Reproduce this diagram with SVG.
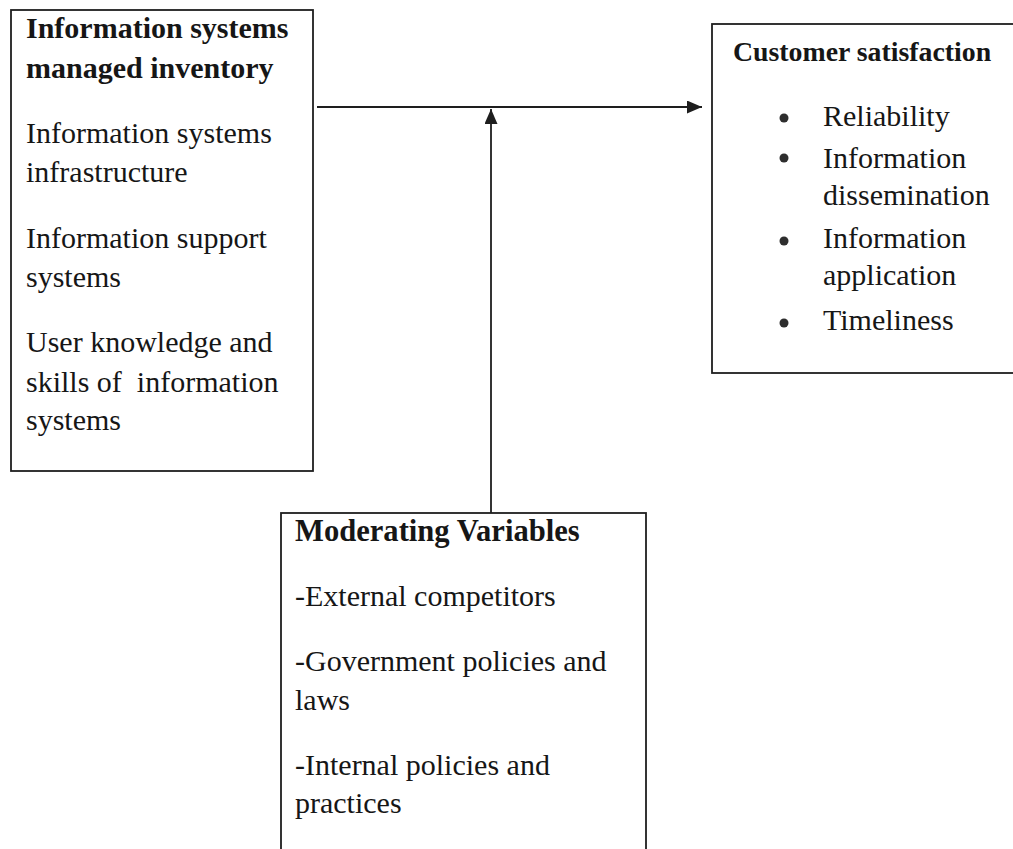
<svg xmlns="http://www.w3.org/2000/svg" width="1013" height="849" viewBox="0 0 1013 849">
  <style>
    .box { fill: #ffffff; stroke: #1e1e1e; stroke-width: 1.8; }
    .t { font-family: "Liberation Serif", "Times New Roman", serif; font-size: 30px; fill: #161616; }
    .b { font-weight: bold; }
    .edge { stroke: #1e1e1e; stroke-width: 1.8; fill: none; }
    .dot { fill: #2e2e2e; }
  </style>
  <defs>
    <marker id="arrowBig" viewBox="0 0 15 13" refX="15" refY="6.5" markerWidth="15" markerHeight="13" markerUnits="userSpaceOnUse" orient="auto">
      <path d="M0,0 L15,6.5 L0,13 Z" fill="#1e1e1e"/>
    </marker>
  </defs>

  <rect width="1013" height="849" fill="#ffffff"/>

  <!-- Independent variable -->
  <g id="node-inventory">
    <rect class="box" x="11" y="10" width="302" height="461"/>
    <text class="t b" x="26" y="38">Information systems</text>
    <text class="t b" x="26" y="78">managed inventory</text>
    <text class="t" x="26" y="143">Information systems</text>
    <text class="t" x="26" y="182">infrastructure</text>
    <text class="t" x="26" y="248">Information support</text>
    <text class="t" x="26" y="287">systems</text>
    <text class="t" x="26" y="352">User knowledge and</text>
    <text class="t" x="26" y="392" xml:space="preserve">skills of  information</text>
    <text class="t" x="26" y="430">systems</text>
  </g>

  <!-- Dependent variable -->
  <g id="node-satisfaction">
    <rect class="box" x="712" y="24" width="310" height="349"/>
    <text class="t b" x="733" y="61" style="font-size:27.8px">Customer satisfaction</text>
    <circle class="dot" cx="784" cy="118" r="4.5"/>
    <text class="t" x="823" y="126">Reliability</text>
    <circle class="dot" cx="784" cy="158" r="4.5"/>
    <text class="t" x="823" y="168">Information</text>
    <text class="t" x="823" y="205">dissemination</text>
    <circle class="dot" cx="784" cy="241" r="4.5"/>
    <text class="t" x="823" y="248">Information</text>
    <text class="t" x="823" y="285">application</text>
    <circle class="dot" cx="784" cy="323" r="4.5"/>
    <text class="t" x="823" y="330">Timeliness</text>
  </g>

  <!-- Moderating variables -->
  <g id="node-moderating">
    <rect class="box" x="281" y="513" width="365" height="345"/>
    <text class="t b" x="295" y="541" style="font-size:30.6px">Moderating Variables</text>
    <text class="t" x="295" y="606">-External competitors</text>
    <text class="t" x="295" y="671">-Government policies and</text>
    <text class="t" x="295" y="710">laws</text>
    <text class="t" x="295" y="775">-Internal policies and</text>
    <text class="t" x="295" y="813">practices</text>
  </g>

  <!-- Connectors -->
  <g id="connectors">
    <line class="edge" x1="317" y1="107" x2="702" y2="107" marker-end="url(#arrowBig)"/>
    <line class="edge" x1="491" y1="513" x2="491" y2="109" marker-end="url(#arrowBig)"/>
  </g>
</svg>
